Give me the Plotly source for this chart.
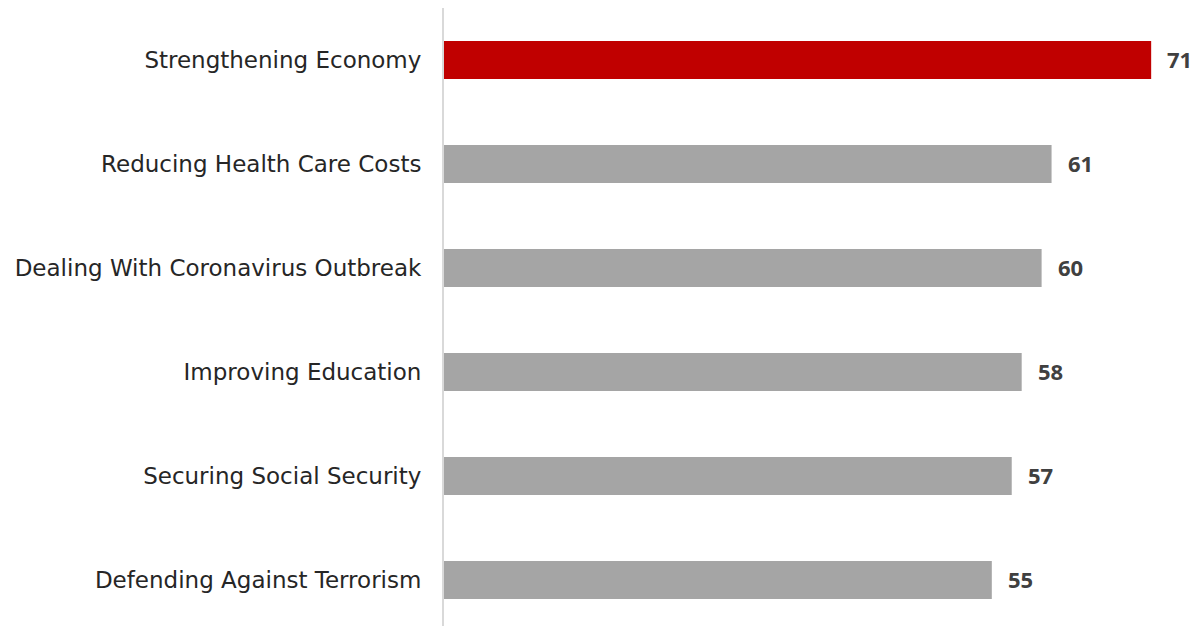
import plotly.graph_objects as go

categories = [
    "Strengthening Economy",
    "Reducing Health Care Costs",
    "Dealing With Coronavirus Outbreak",
    "Improving Education",
    "Securing Social Security",
    "Defending Against Terrorism",
]
values = [71, 61, 60, 58, 57, 55]
colors = ["#c00000", "#a5a5a5", "#a5a5a5", "#a5a5a5", "#a5a5a5", "#a5a5a5"]

fig = go.Figure(
    go.Bar(
        x=values,
        y=categories,
        orientation="h",
        marker=dict(color=colors, line=dict(width=0)),
        width=0.365,
        hoverinfo="skip",
    )
)

for cat, val in zip(categories, values):
    fig.add_annotation(
        x=val, y=cat, text=f"<b>{val}</b>", showarrow=False,
        xanchor="left", xshift=14, yshift=1,
        font=dict(family="Open Sans", size=22, color="#404040"),
    )

fig.update_layout(
    width=1193, height=626,
    margin=dict(l=444, r=0, t=8, b=0),
    paper_bgcolor="white", plot_bgcolor="white",
    showlegend=False,
    font=dict(family="DejaVu Sans", size=23, color="#262626"),
    xaxis=dict(range=[0, 75.2], visible=False, fixedrange=True),
    yaxis=dict(
        categoryorder="array", categoryarray=categories,
        range=[5.442, -0.5],
        showline=True, linecolor="#d9d9d9", linewidth=2,
        showgrid=False, zeroline=False, ticks="",
        ticklabelstandoff=16,
        tickfont=dict(family="DejaVu Sans", size=23, color="#262626"),
    ),
)

fig.write_html("out.html")
